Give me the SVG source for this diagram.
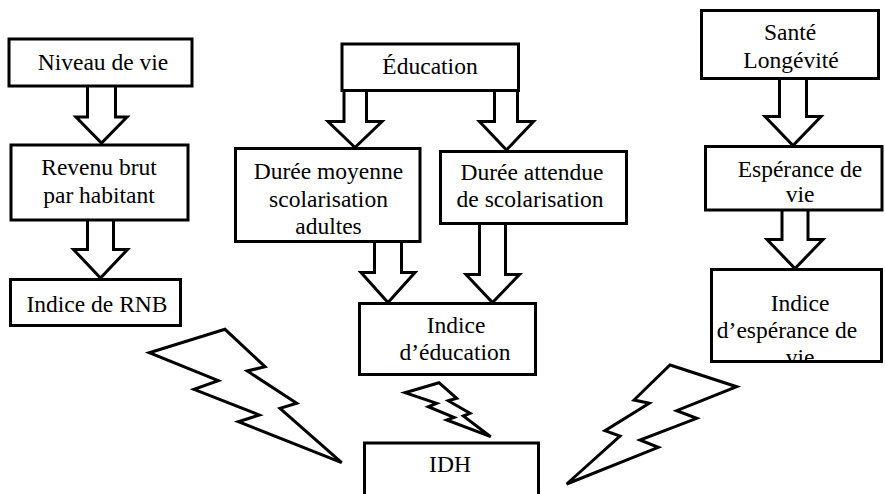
<svg xmlns="http://www.w3.org/2000/svg" width="885" height="494" viewBox="0 0 885 494">
<style>
.box{fill:#fff;stroke:#000;stroke-width:3}
.arr{fill:#fff;stroke:#000;stroke-width:3;stroke-linejoin:miter}
.bolt{fill:#fff;stroke:#000;stroke-width:3;stroke-linejoin:miter}
.t{font-size:23.5px;fill:#000;text-anchor:middle}
</style>
<defs>
<clipPath id="clipEsp"><rect x="700" y="260" width="185" height="101"/></clipPath>
</defs>
<rect width="885" height="494" fill="#fff"/>
<g id="connectors">
<path class="arr" d="M87.5,86 V117 H76 L101.5,143 L127,117 H115.5 V86"/>
<path class="arr" d="M87.5,220 V249.5 H73.5 L100.5,278 L127.5,249.5 H113.5 V220"/>
<path class="arr" d="M344,90 V121.5 H328 L355,147.5 L382,121.5 H366.5 V90"/>
<path class="arr" d="M494.5,90 V121.5 H479.5 L506.5,150 L533.5,121.5 H517.5 V90"/>
<path class="arr" d="M374.5,242 V272.5 H361 L388,302.5 L415,272.5 H401.5 V242"/>
<path class="arr" d="M479.5,223 V274.5 H466 L492.5,302.5 L519.5,274.5 H505.5 V223"/>
<path class="arr" d="M779.5,78 V116.5 H765 L793,145.5 L821,116.5 H806.5 V78"/>
<path class="arr" d="M782,210 V239.5 H767 L795,268.5 L823,239.5 H808 V210"/>
<polygon class="bolt" points="149.3,352.7 225,329.3 265,366.7 247.3,371 296.7,403.3 280,408.3 341.7,462.7 238.3,421.7 259.3,415 194,389.3 218.3,380.7"/>
<polygon class="bolt" points="405,392.7 439,382.7 456.7,398.3 448.3,400.7 470,413.3 463.3,416 490.7,436.7 446.7,420 454,417.3 428.3,406.7 436.7,403.3"/>
<polygon class="bolt" points="670,365 736.7,386.7 676.7,410.7 696.7,418.3 640,440 658.3,447.3 566.7,484 620,436 605,430.7 649.3,403.3 634,400"/>
</g>
<g font-family="Liberation Serif, Times New Roman, serif">
<g id="niveau">
<rect class="box" x="9" y="39" width="183" height="47"/>
<text class="t" x="103" y="70">Niveau de vie</text>
</g>
<g id="revenu">
<rect class="box" x="11" y="145" width="177" height="75"/>
<text class="t" x="99" y="175">Revenu brut</text>
<text class="t" x="99" y="203">par habitant</text>
</g>
<g id="rnb">
<rect class="box" x="10.5" y="279.5" width="170" height="46"/>
<text class="t" x="97" y="311.5">Indice de RNB</text>
</g>
<g id="education">
<rect class="box" x="342" y="44" width="176.5" height="46.5"/>
<text class="t" x="430" y="74">Éducation</text>
</g>
<g id="duree-moyenne">
<rect class="box" x="235.5" y="148.5" width="184.5" height="93"/>
<text class="t" x="328.5" y="179">Durée moyenne</text>
<text class="t" x="328.5" y="206.5">scolarisation</text>
<text class="t" x="328.5" y="233.5">adultes</text>
</g>
<g id="duree-attendue">
<rect class="box" x="440.5" y="151.5" width="186" height="72"/>
<text class="t" x="532" y="180">Durée attendue</text>
<text class="t" x="530" y="207">de scolarisation</text>
</g>
<g id="indice-education">
<rect class="box" x="359.5" y="303.5" width="176" height="71"/>
<text class="t" x="456" y="333">Indice</text>
<text class="t" x="455" y="360">d’éducation</text>
</g>
<g id="idh">
<rect class="box" x="364.5" y="443" width="174" height="60"/>
<text class="t" x="450" y="472">IDH</text>
</g>
<g id="sante">
<rect class="box" x="701.5" y="10.5" width="177" height="68"/>
<text class="t" x="790" y="40">Santé</text>
<text class="t" x="791" y="68">Longévité</text>
</g>
<g id="esperance">
<rect class="box" x="705.5" y="146.5" width="176.5" height="63.5"/>
<text class="t" x="800" y="177">Espérance de</text>
<text class="t" x="800" y="202">vie</text>
</g>
<g id="indice-esperance">
<rect class="box" x="711.5" y="269.5" width="170" height="92"/>
<text class="t" x="800" y="311">Indice</text>
<text class="t" x="787" y="338">d’espérance de</text>
<text class="t" x="800" y="364.5" clip-path="url(#clipEsp)">vie</text>
</g>
</g>
</svg>
